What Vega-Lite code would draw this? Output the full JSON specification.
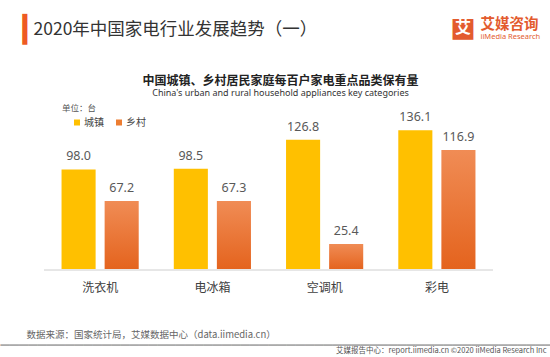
{
  "$schema": "https://vega.github.io/schema/vega-lite/v6.json",
  "width": 449,
  "height": 154,
  "autosize": {"type": "none"},
  "padding": {"left": 44, "top": 116, "right": 57, "bottom": 87},
  "background": "#ffffff",
  "title": {
    "text": "■",
    "subtitle": "艾",
    "anchor": "middle",
    "frame": "group",
    "orient": "top",
    "dx": 194.5,
    "dy": 28,
    "font": "Noto Sans CJK SC",
    "fontSize": 26,
    "fontWeight": "normal",
    "color": "#E35B2E",
    "subtitleFont": "Noto Sans CJK SC",
    "subtitleFontSize": 16,
    "subtitleFontWeight": "bold",
    "subtitleColor": "#ffffff",
    "subtitlePadding": -24,
    "offset": 0
  },
  "data": {
    "values": [
      {"category": "洗衣机", "series": "城镇", "value": 98.0},
      {"category": "洗衣机", "series": "乡村", "value": 67.2},
      {"category": "电冰箱", "series": "城镇", "value": 98.5},
      {"category": "电冰箱", "series": "乡村", "value": 67.3},
      {"category": "空调机", "series": "城镇", "value": 126.8},
      {"category": "空调机", "series": "乡村", "value": 25.4},
      {"category": "彩电", "series": "城镇", "value": 136.1},
      {"category": "彩电", "series": "乡村", "value": 116.9}
    ]
  },
  "config": {
    "view": {"stroke": null},
    "font": "Noto Sans CJK SC",
    "axis": {"grid": false, "ticks": false, "domain": false, "labels": false, "titleAngle": 0, "titleBaseline": "middle", "titleAlign": "left", "titleFont": "Noto Sans CJK SC", "titleFontWeight": "normal"}
  },
  "resolve": {"axis": {"x": "independent", "y": "independent"}},
  "layer": [
    {
      "transform": [{"filter": "datum.series === '城镇'"}],
      "mark": {"type": "bar", "color": "#FFC000"},
      "encoding": {
        "x": {
          "field": "category", "type": "nominal", "sort": null,
          "scale": {"paddingInner": 0.3125, "paddingOuter": 0.15625},
          "axis": {"orient": "bottom", "labels": true, "labelAngle": 0, "labelFont": "Noto Sans CJK SC", "labelFontSize": 12, "labelColor": "#404040", "labelPadding": 12,
            "title": "数据来源：国家统计局，艾媒数据中心（data.iimedia.cn）", "titleX": -18, "titleY": 64, "titleFontSize": 9.5, "titleColor": "#666666"}
        },
        "xOffset": {"field": "series", "type": "nominal", "scale": {"domain": ["城镇", "乡村"], "paddingInner": 0.209, "paddingOuter": 0}},
        "y": {
          "field": "value", "type": "quantitative", "scale": {"domain": [0, 150], "nice": false},
          "axis": {"orient": "left", "title": "2020年中国家电行业发展趋势（一）", "titleX": -11, "titleY": -87, "titleFontSize": 17.5, "titleColor": "#333333"}
        },
        "color": {
          "field": "series", "type": "nominal",
          "scale": {"domain": ["城镇", "乡村"], "range": ["#FFC000", "#ED7D31"]},
          "legend": {"orient": "none", "legendX": 18, "legendY": -12, "direction": "horizontal", "title": "单位：台",
            "titleAnchor": "start", "titleAlign": "left", "padding": 0, "offset": 0, "symbolOffset": 10,
            "titleFont": "Noto Sans CJK SC", "titleFontSize": 8.5, "titleFontWeight": "normal", "titleColor": "#555555", "titlePadding": 5,
            "symbolType": "square", "symbolSize": 36, "labelFont": "Noto Sans CJK SC", "labelFontSize": 10, "labelColor": "#444444", "columnPadding": 0, "labelOffset": 2}
        }
      }
    },
    {
      "transform": [{"filter": "datum.series === '乡村'"}],
      "mark": {"type": "bar", "color": {"gradient": "linear", "x1": 0, "y1": 0, "x2": 0, "y2": 1, "stops": [{"offset": 0, "color": "#F08C55"}, {"offset": 1, "color": "#E4631D"}]}},
      "encoding": {
        "x": {"field": "category", "type": "nominal", "sort": null,
          "axis": {"orient": "top", "title": "中国城镇、乡村居民家庭每百户家电重点品类保有量", "titleX": 236, "titleY": -36, "titleAlign": "center", "titleFontSize": 12, "titleFontWeight": "bold", "titleColor": "#222222"}},
        "xOffset": {"field": "series", "type": "nominal"},
        "y": {"field": "value", "type": "quantitative",
          "axis": {"orient": "right", "title": "艾媒咨询", "titleX": -13, "titleY": -91.5, "titleFontSize": 14.5, "titleFontWeight": "bold", "titleColor": "#E35B2E"}}
      }
    },
    {
      "transform": [{"filter": "datum.series === '城镇'"}],
      "mark": {"type": "text", "baseline": "alphabetic", "dy": -9, "font": "Noto Sans", "fontSize": 12.5, "color": "#595959"},
      "encoding": {
        "x": {"field": "category", "type": "nominal", "sort": null,
          "axis": {"orient": "top", "title": "China's urban and rural household appliances key categories", "titleX": 236, "titleY": -24, "titleAlign": "center", "titleFont": "Noto Sans", "titleFontSize": 9, "titleColor": "#333333"}},
        "xOffset": {"field": "series", "type": "nominal"},
        "y": {"field": "value", "type": "quantitative",
          "axis": {"orient": "right", "title": "iiMedia Research", "titleX": -13, "titleY": -80, "titleFont": "Noto Sans", "titleFontSize": 7.5, "titleColor": "#E35B2E"}},
        "text": {"field": "value", "type": "quantitative", "format": ".1f"}
      }
    },
    {
      "transform": [{"filter": "datum.series === '乡村'"}],
      "mark": {"type": "text", "baseline": "alphabetic", "dy": -9, "font": "Noto Sans", "fontSize": 12.5, "color": "#595959"},
      "encoding": {
        "x": {"field": "category", "type": "nominal", "sort": null,
          "axis": {"orient": "bottom", "title": "艾媒报告中心：report.iimedia.cn  ©2020  iiMedia Research Inc", "titleX": 502, "titleY": 80, "titleAlign": "right", "titleFontSize": 7.5, "titleColor": "#555555"}},
        "xOffset": {"field": "series", "type": "nominal"},
        "y": {"field": "value", "type": "quantitative",
          "axis": {"orient": "left", "title": "▎", "titleX": -22, "titleY": -87, "titleFont": "DejaVu Sans", "titleFontSize": 26, "titleColor": "#EE5A24"}},
        "text": {"field": "value", "type": "quantitative", "format": ".1f"}
      }
    },
    {
      "mark": {"type": "rule", "color": "#E6E6E6", "strokeWidth": 1},
      "encoding": {
        "y": {"datum": 0, "type": "quantitative",
          "axis": {"orient": "left", "title": "▁▁▁▁▁▁▁▁▁▁▁▁▁▁▁▁▁▁▁▁▁▁▁▁▁▁▁▁▁▁▁▁▁▁▁▁▁▁▁▁▁▁▁▁▁▁▁▁▁▁▁▁▁▁▁▁▁▁▁▁▁▁▁", "titleX": -44, "titleY": 229, "titleBaseline": "bottom", "titleFont": "DejaVu Sans", "titleFontSize": 12, "titleColor": "#AAAAAA", "titleLimit": 1000}}
      }
    }
  ]
}
